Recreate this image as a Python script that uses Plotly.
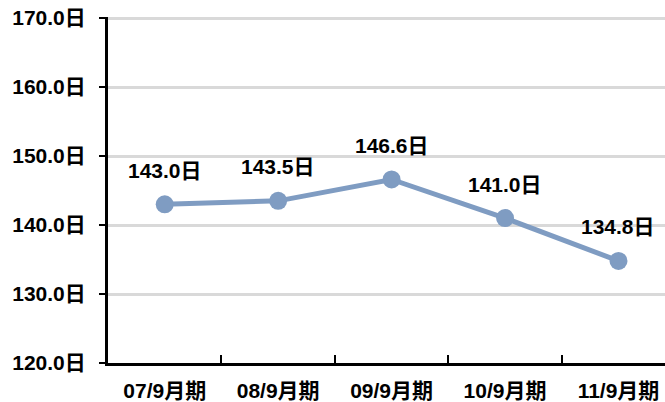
import plotly.graph_objects as go

categories = ["07/9月期", "08/9月期", "09/9月期", "10/9月期", "11/9月期"]
values = [143.0, 143.5, 146.6, 141.0, 134.8]
y_ticks = [120, 130, 140, 150, 160, 170]
y_tick_labels = [f"{v:.1f}日" for v in y_ticks]
value_labels = [f"{v:.1f}日" for v in values]

FONT = "Liberation Sans, Arial, Noto Sans CJK JP, sans-serif"
LINE_COLOR = "#7f9cc2"

fig = go.Figure()
fig.add_trace(go.Scatter(
    x=list(range(len(categories))), y=values,
    mode="lines+markers",
    line=dict(color=LINE_COLOR, width=5),
    marker=dict(color=LINE_COLOR, size=18),
    hoverinfo="skip",
))

for i, (v, t) in enumerate(zip(values, value_labels)):
    fig.add_annotation(x=i, y=v, text=f"<b>{t}</b>", showarrow=False,
                       yshift=34, font=dict(size=21, color="black", family=FONT))

fig.update_layout(
    width=665, height=402,
    margin=dict(l=108, r=0, t=17, b=39),
    paper_bgcolor="white", plot_bgcolor="white",
    showlegend=False,
    font=dict(family=FONT, color="black", size=21),
)
fig.update_xaxes(
    range=[-0.5, 4.41], automargin=False,
    tickmode="array", tickvals=list(range(len(categories))),
    ticktext=[f"<b>{c}</b>" for c in categories],
    showgrid=False, showline=True, linecolor="black", linewidth=3,
    ticks="", zeroline=False, ticklabelstandoff=7,
    minor=dict(tickvals=[0.5, 1.5, 2.5, 3.5], ticks="inside",
               ticklen=8, tickwidth=2, tickcolor="black", showgrid=False),
)
fig.update_yaxes(
    range=[120, 170.15], automargin=False,
    tickmode="array", tickvals=y_ticks,
    ticktext=[f"<b>{t}</b>" for t in y_tick_labels],
    showgrid=True, gridcolor="#d9d9d9", gridwidth=3,
    showline=True, linecolor="black", linewidth=3,
    ticks="outside", ticklen=6, tickwidth=2, tickcolor="black",
    zeroline=False, ticklabelstandoff=9, ticklabeloverflow="allow",
)
fig.write_html(
    "out.html",
    config={"displayModeBar": False, "staticPlot": True},
    post_script="document.body.style.margin='0';document.body.style.overflow='hidden';",
)
